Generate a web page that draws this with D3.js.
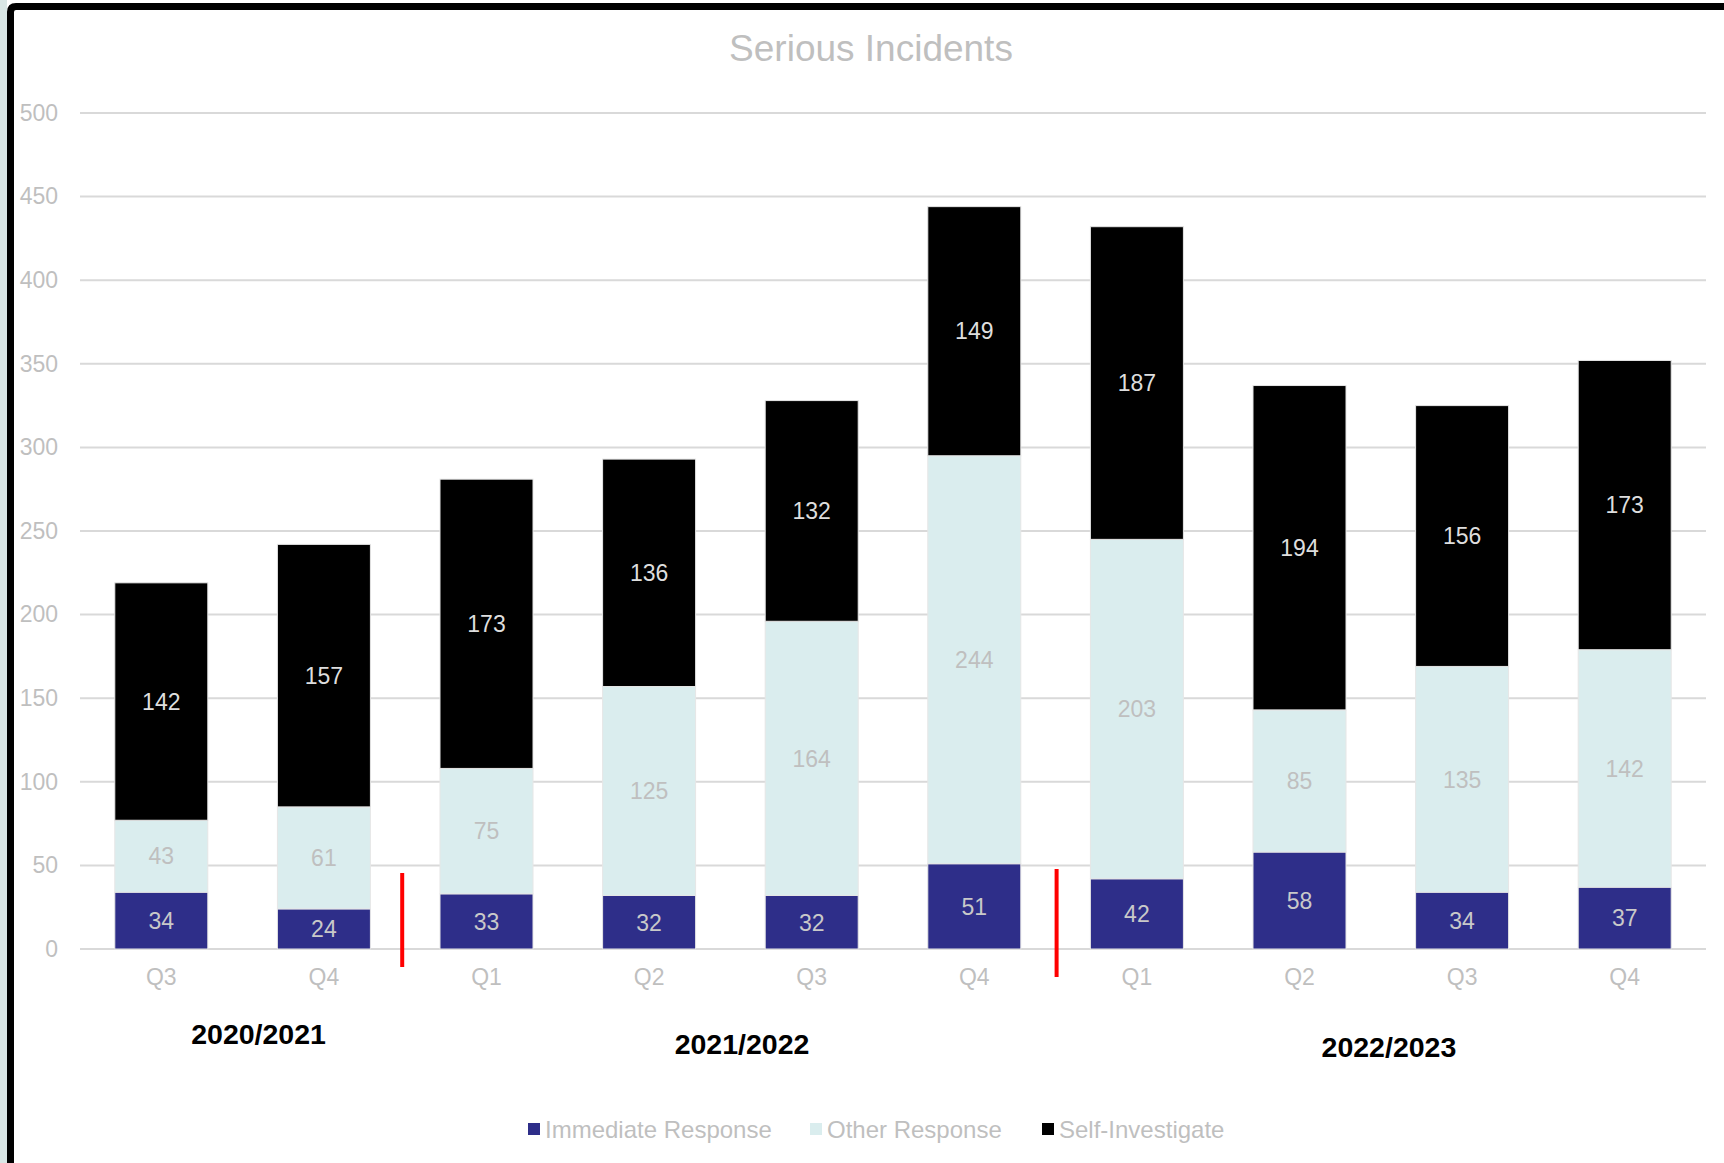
<!DOCTYPE html>
<html>
<head>
<meta charset="utf-8">
<script src="https://cdn.jsdelivr.net/npm/d3@7"></script>
<style>
  body { margin: 0; background: #fff; }
  text { font-family: "Liberation Sans", Arial, sans-serif; }
</style>
</head>
<body>
<svg id="chart"></svg>
<script>
// Data
const quarters = ['Q3', 'Q4', 'Q1', 'Q2', 'Q3', 'Q4', 'Q1', 'Q2', 'Q3', 'Q4'];
const immediate = [34, 24, 33, 32, 32, 51, 42, 58, 34, 37];
const other = [43, 61, 75, 125, 164, 244, 203, 85, 135, 142];
const selfInv = [142, 157, 173, 136, 132, 149, 187, 194, 156, 173];
const seriesNames = ['Immediate Response', 'Other Response', 'Self-Investigate'];
const yTicks = [0, 50, 100, 150, 200, 250, 300, 350, 400, 450, 500];
// financial years: label and the bar indexes they span
const years = [
    {label: '2020/2021', from: 0, to: 1, pos: 0.5625, dy: 0},
    {label: '2021/2022', from: 2, to: 5, pos: 0.52, dy: 10},
    {label: '2022/2023', from: 6, to: 9, pos: 0.514, dy: 13}
];
const yearBreaks = [2, 6]; // red separators before these bars

let width = 1724, height = 1163;
let margin = {top: 113, bottom: 214, left: 80, right: 18};

let svg = d3.select('#chart')
    .attr('width', width)
    .attr('height', height);

// frame: pale strip and thick black border on top/left
svg.append('rect')
    .attr('x', 0).attr('y', 0)
    .attr('width', 7).attr('height', height)
    .attr('fill', '#d9e6e5');
svg.append('path')
    .attr('d', `M10.5,${height} L10.5,12 Q10.5,6.5 16,6.5 L${width},6.5`)
    .attr('fill', 'none')
    .attr('stroke', '#000')
    .attr('stroke-width', 7);

const colors = ['#2e2e89', '#daedee', '#000000'];
const labelColors = ['#c9c9c9', '#bfbfbf', '#dedede'];

let xScale = d3.scaleBand()
    .domain(d3.range(quarters.length))
    .range([margin.left, width - margin.right])
    .paddingInner(0.428)
    .paddingOuter(0.214);

let yScale = d3.scaleLinear()
    .domain([0, 500])
    .range([height - margin.bottom, margin.top]);

// gridlines
svg.append('g')
    .selectAll('line')
    .data(yTicks)
    .enter()
    .append('line')
    .attr('x1', margin.left)
    .attr('x2', width - margin.right)
    .attr('y1', d => yScale(d))
    .attr('y2', d => yScale(d))
    .attr('stroke', '#d9d9d9')
    .attr('stroke-width', 2);

// y axis labels
let yAxis = svg.append('g')
    .attr('transform', `translate(${margin.left}, 0)`)
    .call(d3.axisLeft(yScale).tickValues(yTicks).tickSize(0).tickPadding(22));
yAxis.select('.domain').remove();
yAxis.selectAll('text')
    .attr('fill', '#bfbfbf')
    .style('font-size', '23px')
    .style('font-family', '"Liberation Sans", Arial, sans-serif');

// x axis labels
let xAxis = svg.append('g')
    .attr('transform', `translate(0, ${height - margin.bottom})`)
    .call(d3.axisBottom(xScale).tickFormat(i => quarters[i]).tickSize(0).tickPadding(20));
xAxis.select('.domain').remove();
xAxis.selectAll('text')
    .attr('fill', '#bfbfbf')
    .style('font-size', '23px')
    .style('font-family', '"Liberation Sans", Arial, sans-serif');

// stack the three series
const rows = quarters.map((q, i) => ({i: i, a: immediate[i], b: other[i], c: selfInv[i]}));
const stack = d3.stack().keys(['a', 'b', 'c'])(rows);

let layers = svg.selectAll('.layer')
    .data(stack)
    .enter()
    .append('g')
    .attr('class', 'layer');

layers.selectAll('rect')
    .data((d, k) => d.map(p => ({p: p, k: k})))
    .enter()
    .append('rect')
    .attr('x', d => xScale(d.p.data.i))
    .attr('y', d => yScale(d.p[1]))
    .attr('width', xScale.bandwidth())
    .attr('height', d => yScale(d.p[0]) - yScale(d.p[1]))
    .attr('fill', d => colors[d.k])
    .attr('stroke', '#e6e6e6')
    .attr('stroke-width', 1);

layers.selectAll('text')
    .data((d, k) => d.map(p => ({p: p, k: k})))
    .enter()
    .append('text')
    .attr('x', d => xScale(d.p.data.i) + xScale.bandwidth() / 2)
    .attr('y', d => (yScale(d.p[0]) + yScale(d.p[1])) / 2)
    .attr('dy', '0.36em')
    .attr('text-anchor', 'middle')
    .attr('fill', d => labelColors[d.k])
    .style('font-size', '23px')
    .text(d => d.p[1] - d.p[0]);

// red separators between financial years (hand-drawn, slightly off-centre)
const gap = xScale.step() - xScale.bandwidth();
svg.selectAll('.sep')
    .data(yearBreaks)
    .enter()
    .append('line')
    .attr('class', 'sep')
    .attr('x1', (d, i) => xScale(d) - gap / 2 + (i === 0 ? -3 : 1))
    .attr('x2', (d, i) => xScale(d) - gap / 2 + (i === 0 ? -3 : 1))
    .attr('y1', (d, i) => yScale(0) - (i === 0 ? 76 : 80))
    .attr('y2', (d, i) => yScale(0) + (i === 0 ? 18 : 28))
    .attr('stroke', '#ff0000')
    .attr('stroke-width', 4);

// financial year labels
svg.selectAll('.year')
    .data(years)
    .enter()
    .append('text')
    .attr('class', 'year')
    .attr('x', d => {
        let x0 = xScale(d.from), x1 = xScale(d.to) + xScale.bandwidth();
        return x0 + (x1 - x0) * d.pos;
    })
    .attr('y', d => yScale(0) + 95 + d.dy)
    .attr('text-anchor', 'middle')
    .attr('fill', '#000')
    .style('font-size', '28.5px')
    .style('font-weight', 'bold')
    .text(d => d.label);

// title
svg.append('text')
    .attr('x', 871)
    .attr('y', 61)
    .attr('text-anchor', 'middle')
    .attr('fill', '#bfbfbf')
    .style('font-size', '37px')
    .text('Serious Incidents');

// legend
const legendX = [528, 810, 1042];
let legend = svg.selectAll('.legend')
    .data(seriesNames)
    .enter()
    .append('g')
    .attr('class', 'legend')
    .attr('transform', (d, i) => `translate(${legendX[i]}, 1129)`);

legend.append('rect')
    .attr('x', 0)
    .attr('y', -6)
    .attr('width', 12)
    .attr('height', 12)
    .attr('fill', (d, i) => colors[i]);

legend.append('text')
    .attr('x', 17)
    .attr('y', 0)
    .attr('dy', '0.36em')
    .attr('fill', '#bfbfbf')
    .style('font-size', '24px')
    .text(d => d);
</script>
</body>
</html>
